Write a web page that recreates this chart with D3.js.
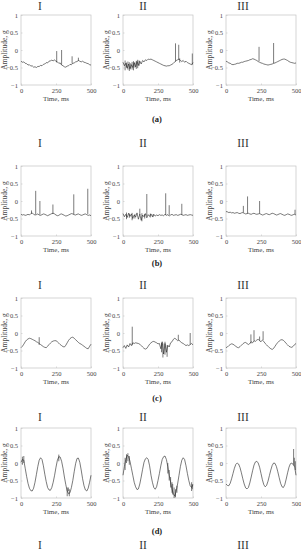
<!DOCTYPE html>
<html>
<head>
<meta charset="utf-8">
<script src="https://cdn.jsdelivr.net/npm/d3@7"></script>
<style>
  body { margin: 0; background: #fff; }
  svg { display: block; font-family: "Liberation Serif", "Times New Roman", serif; }
</style>
</head>
<body>
<div id="chart-container"></div>
<script>
// sample times (ms), shared by every trace
const timeMs = [0,10,20,30,40,50,60,70,80,90,100,110,120,130,140,150,160,170,180,190,200,
  210,220,230,240,250,260,270,280,290,300,310,320,330,340,350,360,370,380,390,400,
  410,420,430,440,450,460,470,480,490,500];

const xTicks = [0, 250, 500];
const yTicks = [1, 0.5, 0, -0.5, -1];
const panelTitles = ["I", "II", "III"];
const rowLabels = ["(a)", "(b)", "(c)", "(d)"];

// row (a)
const ampA1 = [-0.32,-0.35,-0.34,-0.38,-0.39,-0.43,-0.42,-0.46,-0.45,-0.49,-0.48,-0.50,-0.47,-0.47,-0.44,-0.45,-0.41,
  -0.40,-0.36,-0.37,-0.32,-0.31,-0.29,-0.31,-0.28,-0.33,-0.34,-0.38,-0.37,-0.43,-0.45,-0.48,-0.49,-0.46,-0.45,
  -0.41,-0.42,-0.38,-0.37,-0.34,-0.33,-0.30,-0.32,-0.34,-0.32,-0.35,-0.36,-0.38,-0.39,-0.42,-0.43];
const ampA2 = [-0.35,-0.45,-0.38,-0.52,-0.40,-0.55,-0.42,-0.50,-0.36,-0.48,-0.33,-0.44,-0.32,-0.40,-0.30,-0.34,-0.28,
  -0.30,-0.26,-0.27,-0.26,-0.28,-0.30,-0.32,-0.34,-0.36,-0.38,-0.40,-0.42,-0.44,-0.45,-0.46,-0.45,-0.45,-0.43,
  -0.41,-0.38,-0.34,-0.30,-0.28,-0.26,-0.30,-0.33,-0.30,-0.35,-0.32,-0.36,-0.38,-0.40,-0.42,-0.36];
const ampA3 = [-0.32,-0.34,-0.37,-0.38,-0.41,-0.42,-0.41,-0.40,-0.38,-0.38,-0.37,-0.35,-0.35,-0.33,-0.32,-0.31,-0.30,
  -0.28,-0.27,-0.25,-0.26,-0.28,-0.30,-0.33,-0.35,-0.37,-0.38,-0.40,-0.41,-0.42,-0.43,-0.42,-0.41,-0.40,-0.38,
  -0.37,-0.35,-0.33,-0.31,-0.29,-0.27,-0.26,-0.26,-0.28,-0.30,-0.33,-0.35,-0.36,-0.37,-0.38,-0.37];
// spikes / bursts: [time, from, to]
const spikesA1 = [[255,-0.35,-0.03],[290,-0.42,0.0],[365,-0.39,-0.18],[410,-0.31,-0.22]];
const spikesA2 = [[15,-0.30,-0.58],[25,-0.36,-0.50],[35,-0.33,-0.56],[45,-0.35,-0.60],[55,-0.38,-0.52],
  [65,-0.34,-0.56],[75,-0.32,-0.58],[85,-0.36,-0.50],[95,-0.31,-0.54],[105,-0.28,-0.52],[115,-0.30,-0.45],
  [375,-0.33,0.19],[398,-0.27,0.15],[405,-0.24,-0.36],[495,-0.42,-0.10]];
const spikesA3 = [[236,-0.32,0.09],[340,-0.38,0.20]];

// row (b)
const ampB1 = [-0.38,-0.40,-0.39,-0.41,-0.40,-0.38,-0.40,-0.36,-0.34,-0.38,-0.40,-0.39,-0.37,-0.40,-0.41,-0.39,-0.37,
  -0.38,-0.40,-0.42,-0.40,-0.38,-0.36,-0.35,-0.37,-0.40,-0.42,-0.41,-0.38,-0.37,-0.39,-0.41,-0.43,-0.42,-0.40,
  -0.38,-0.36,-0.37,-0.39,-0.40,-0.38,-0.37,-0.39,-0.41,-0.40,-0.38,-0.37,-0.39,-0.41,-0.40,-0.42];
const ampB2 = [-0.36,-0.45,-0.38,-0.47,-0.35,-0.44,-0.37,-0.50,-0.40,-0.46,-0.34,-0.52,-0.38,-0.55,-0.40,-0.45,-0.36,
  -0.48,-0.39,-0.44,-0.37,-0.45,-0.38,-0.43,-0.40,-0.42,-0.39,-0.41,-0.40,-0.42,-0.38,-0.41,-0.39,-0.43,-0.40,
  -0.38,-0.41,-0.40,-0.39,-0.41,-0.40,-0.38,-0.39,-0.41,-0.40,-0.39,-0.41,-0.40,-0.39,-0.40,-0.41];
const ampB3 = [-0.30,-0.31,-0.33,-0.32,-0.34,-0.33,-0.35,-0.34,-0.33,-0.35,-0.36,-0.34,-0.33,-0.35,-0.37,-0.36,-0.35,
  -0.37,-0.38,-0.36,-0.35,-0.37,-0.38,-0.37,-0.36,-0.38,-0.40,-0.39,-0.37,-0.36,-0.38,-0.39,-0.37,-0.35,-0.36,
  -0.38,-0.40,-0.39,-0.37,-0.36,-0.38,-0.40,-0.41,-0.39,-0.37,-0.38,-0.40,-0.41,-0.39,-0.38,-0.40];
const spikesB1 = [[75,-0.36,-0.27],[105,-0.38,0.29],[135,-0.39,0.0],[228,-0.37,-0.10],[377,-0.38,0.19],[477,-0.37,0.35]];
const spikesB2 = [[25,-0.33,-0.52],[45,-0.36,-0.48],[65,-0.34,-0.55],[85,-0.37,-0.50],[120,-0.40,-0.22],
  [135,-0.35,-0.58],[155,-0.37,-0.50],[170,-0.42,0.20],[195,-0.36,-0.47],[215,-0.38,-0.46],
  [305,-0.40,0.22],[330,-0.40,-0.12],[420,-0.40,-0.08]];
const spikesB3 = [[124,-0.33,-0.14],[154,-0.35,0.13],[240,-0.36,0.0],[493,-0.38,-0.25]];

// row (c)
const ampC1 = [-0.42,-0.38,-0.32,-0.25,-0.20,-0.17,-0.15,-0.16,-0.18,-0.20,-0.22,-0.25,-0.27,-0.30,-0.33,-0.36,-0.39,
  -0.41,-0.42,-0.38,-0.33,-0.29,-0.25,-0.23,-0.22,-0.22,-0.25,-0.29,-0.33,-0.36,-0.39,-0.40,-0.35,-0.28,-0.21,
  -0.16,-0.13,-0.12,-0.15,-0.19,-0.23,-0.27,-0.30,-0.32,-0.35,-0.38,-0.41,-0.44,-0.45,-0.38,-0.32];
const ampC2 = [-0.42,-0.36,-0.44,-0.34,-0.40,-0.30,-0.36,-0.28,-0.30,-0.28,-0.29,-0.30,-0.32,-0.36,-0.40,-0.44,-0.46,
  -0.44,-0.38,-0.32,-0.28,-0.25,-0.24,-0.26,-0.28,-0.31,-0.30,-0.45,-0.25,-0.60,-0.30,-0.55,-0.35,-0.40,-0.28,
  -0.25,-0.18,-0.15,-0.18,-0.22,-0.20,-0.25,-0.28,-0.30,-0.33,-0.36,-0.34,-0.36,-0.33,-0.30,-0.34];
const ampC3 = [-0.42,-0.40,-0.36,-0.33,-0.31,-0.32,-0.35,-0.38,-0.41,-0.42,-0.39,-0.35,-0.31,-0.28,-0.27,-0.30,-0.33,
  -0.30,-0.25,-0.28,-0.22,-0.24,-0.20,-0.18,-0.22,-0.25,-0.20,-0.24,-0.30,-0.34,-0.38,-0.42,-0.45,-0.47,-0.44,
  -0.38,-0.32,-0.27,-0.23,-0.20,-0.19,-0.21,-0.25,-0.30,-0.34,-0.38,-0.40,-0.41,-0.38,-0.33,-0.30];
const spikesC1 = [[130,-0.34,-0.12]];
const spikesC2 = [[66,-0.35,0.18],[275,-0.28,-0.55],[285,-0.30,-0.70],[300,-0.25,-0.62],[315,-0.35,-0.68],
  [395,-0.20,-0.05],[480,-0.33,0.0]];
const spikesC3 = [[178,-0.30,-0.04],[200,-0.22,0.08],[240,-0.22,-0.10],[265,-0.20,0.05]];

// row (d)
const ampD1 = [0.02,0.10,0.08,-0.15,-0.38,-0.58,-0.72,-0.79,-0.80,-0.72,-0.55,-0.33,-0.10,0.08,0.15,0.10,-0.08,
  -0.32,-0.53,-0.70,-0.77,-0.78,-0.70,-0.55,-0.35,-0.12,0.08,0.18,0.17,0.05,-0.15,-0.40,-0.62,-0.80,-0.88,
  -0.85,-0.70,-0.50,-0.25,-0.02,0.13,0.14,0.02,-0.20,-0.45,-0.65,-0.77,-0.80,-0.72,-0.55,-0.35];
const ampD2 = [-0.35,-0.10,0.10,0.22,0.18,0.05,-0.15,-0.35,-0.55,-0.68,-0.76,-0.74,-0.60,-0.40,-0.18,0.02,0.12,
  0.15,0.10,-0.08,-0.35,-0.55,-0.70,-0.75,-0.68,-0.50,-0.30,-0.08,0.10,0.18,0.20,0.10,-0.10,-0.35,-0.55,
  -0.75,-0.88,-0.95,-0.80,-0.60,-0.35,-0.10,0.08,0.15,0.10,-0.08,-0.30,-0.50,-0.65,-0.70,-0.62];
const ampD3 = [-0.60,-0.64,-0.65,-0.58,-0.45,-0.30,-0.15,-0.04,0.00,-0.03,-0.13,-0.28,-0.45,-0.60,-0.71,-0.74,-0.70,
  -0.57,-0.40,-0.22,-0.06,0.03,0.05,0.00,-0.12,-0.30,-0.48,-0.62,-0.68,-0.64,-0.52,-0.36,-0.20,-0.07,0.00,
  -0.01,-0.10,-0.25,-0.42,-0.58,-0.68,-0.70,-0.62,-0.46,-0.28,-0.12,-0.02,0.00,-0.05,-0.10,-0.35];
const spikesD1 = [[10,-0.05,0.18],[20,0.0,0.20],[270,0.05,0.24],[330,-0.70,-0.95],[338,-0.80,-0.70],[345,-0.75,-0.95]];
const spikesD2 = [[15,-0.20,0.15],[25,0.0,0.25],[35,0.05,0.28],[45,-0.05,0.20],
  [320,0.0,-0.30],[330,-0.20,-0.50],[340,-0.40,-0.70],[350,-0.55,-0.85],[355,-0.60,-0.90],
  [365,-0.70,-1.0],[375,-0.75,-0.98],[385,-0.65,-0.85],[490,-0.55,-0.80],[495,-0.60,-0.75]];
const spikesD3 = [[483,-0.05,0.40],[488,-0.10,0.15],[495,-0.20,0.05]];

const rows = [
  [[ampA1, spikesA1], [ampA2, spikesA2], [ampA3, spikesA3]],
  [[ampB1, spikesB1], [ampB2, spikesB2], [ampB3, spikesB3]],
  [[ampC1, spikesC1], [ampC2, spikesC2], [ampC3, spikesC3]],
  [[ampD1, spikesD1], [ampD2, spikesD2], [ampD3, spikesD3]]
];

// layout
const width = 301, height = 550;
const panelLeft = [21, 123, 226];
const panelTop = [15, 166, 298, 428];
const panelW = 70, panelH = 70;
const titleY = [10, 147, 289, 421, 549];
const titleX = [40, 143, 243];
const rowLabelY = [122, 266, 401, 534];
const fontFamily = "'Liberation Serif', 'Times New Roman', serif";

const svg = d3.select("#chart-container")
  .append("svg")
  .attr("width", width)
  .attr("height", height);

const x = d3.scaleLinear().domain([0, 500]).range([0, panelW]);
const y = d3.scaleLinear().domain([-1, 1]).range([panelH, 0]);

const line = d3.line()
  .x((d, i) => x(timeMs[i]))
  .y((d) => y(d));
const seg = d3.line()
  .x((d) => x(d[0]))
  .y((d) => y(d[1]));

function drawPanel(g, values, spikes) {
  // frame
  g.append("rect")
    .attr("width", panelW)
    .attr("height", panelH)
    .attr("fill", "none")
    .attr("stroke", "#c4c4c4")
    .attr("stroke-width", 0.7);

  // axes, ticks pointing inwards
  const xa = g.append("g")
    .attr("transform", "translate(0," + panelH + ")")
    .call(d3.axisBottom(x).tickValues(xTicks).tickSize(-1.5).tickPadding(3.5));
  const ya = g.append("g")
    .call(d3.axisLeft(y).tickValues(yTicks).tickSize(-1.5).tickPadding(3)
      .tickFormat((d) => d3.format("")(d)));
  [xa, ya].forEach((a) => {
    a.attr("font-family", fontFamily);
    a.select(".domain").remove();
    a.selectAll("line").attr("stroke", "#c4c4c4").attr("stroke-width", 0.6);
    a.selectAll("text")
      .attr("fill", "#444")
      .style("font-size", "6.5px");
  });

  // trace
  g.append("path")
    .datum(values)
    .attr("fill", "none")
    .attr("stroke", "#222")
    .attr("stroke-width", 0.6)
    .attr("d", line);

  g.selectAll(".spike")
    .data(spikes)
    .enter()
    .append("path")
    .attr("fill", "none")
    .attr("stroke", "#222")
    .attr("stroke-width", 0.6)
    .attr("d", (d) => seg([[d[0], d[1]], [d[0], d[2]]]));

  // axis titles
  g.append("text")
    .attr("x", panelW / 2)
    .attr("y", panelH + 16)
    .attr("text-anchor", "middle")
    .attr("fill", "#444")
    .style("font-size", "7px")
    .text("Time, ms");
  g.append("text")
    .attr("transform", "translate(-14," + (panelH / 2) + ")rotate(-90)")
    .attr("text-anchor", "middle")
    .attr("fill", "#444")
    .style("font-size", "7.5px")
    .text("Amplitude, g");
}

rows.forEach((row, r) => {
  row.forEach((p, c) => {
    const g = svg.append("g")
      .attr("transform", "translate(" + panelLeft[c] + "," + panelTop[r] + ")");
    drawPanel(g, p[0], p[1]);
  });
  svg.append("text")
    .attr("x", 157)
    .attr("y", rowLabelY[r])
    .attr("text-anchor", "middle")
    .attr("fill", "#222")
    .style("font-weight", "bold")
    .style("font-size", "8.5px")
    .text(rowLabels[r]);
});

// panel titles (the last set belongs to the next, cut-off row)
titleY.forEach((ty) => {
  panelTitles.forEach((t, c) => {
    svg.append("text")
      .attr("x", titleX[c])
      .attr("y", ty)
      .attr("text-anchor", "middle")
      .attr("fill", "#333")
      .style("font-size", "11.5px")
      .text(t);
  });
});
</script>
</body>
</html>
